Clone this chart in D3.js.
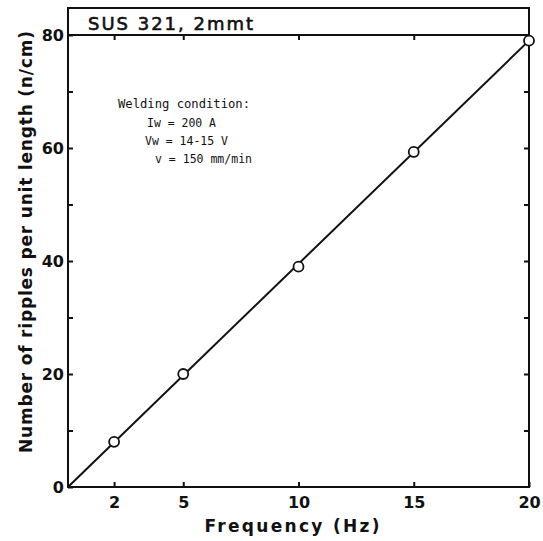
<!DOCTYPE html>
<html>
<head>
<meta charset="utf-8">
<script src="https://cdn.jsdelivr.net/npm/d3@7"></script>
<style>
  html, body { margin: 0; padding: 0; background: #fff; }
  svg { display: block; }
  .ax path { display: none; }
  .ax line { stroke: #111; stroke-width: 2; }
  .ax text { font-family: "DejaVu Sans", sans-serif; font-weight: bold; font-size: 16px; fill: #111; }
</style>
</head>
<body>
<svg id="chart" width="543" height="541"></svg>
<script>
// Ripple count vs. pulse frequency, SUS 321 2 mm sheet
const frequency = [2, 5, 10, 15, 20];          // Hz
const ripples   = [8, 20, 39, 59.3, 79];        // n/cm
const xTicks = [2, 5, 10, 15, 20];
const xTopTicks = [2, 5, 10, 15];
const yTicks = [0, 10, 20, 30, 40, 50, 60, 70, 80];
const yRightTicks = [10, 20, 30, 40, 50, 60, 70];
const conditions = ["Welding condition:", "Iw = 200 A", "Vw = 14-15 V", "v = 150 mm/min"];

const svg = d3.select("#chart");
const plotL = 68, plotR = 529, plotT = 35, plotB = 487, frameTop = 8;

const x = d3.scaleLinear().domain([0, 20]).range([plotL, plotR]);
const y = d3.scaleLinear().domain([0, 80]).range([plotB, plotT]);

// Frame with title strip
svg.append("rect")
  .attr("x", plotL).attr("y", frameTop)
  .attr("width", plotR - plotL).attr("height", plotB - frameTop)
  .attr("fill", "none").attr("stroke", "#111").attr("stroke-width", 2);
svg.append("line")
  .attr("x1", plotL).attr("x2", plotR).attr("y1", plotT).attr("y2", plotT)
  .attr("stroke", "#111").attr("stroke-width", 2);

svg.append("text")
  .attr("x", 88).attr("y", 30)
  .attr("font-family", "DejaVu Sans, sans-serif")
  .attr("font-size", 18)
  .attr("stroke", "#111").attr("stroke-width", 0.6)
  .attr("textLength", 165).attr("lengthAdjust", "spacing")
  .attr("fill", "#111")
  .text("SUS 321, 2mmt");

// Axes (ticks point inward)
svg.append("g").attr("class", "ax")
  .attr("transform", `translate(0,${plotB})`)
  .call(d3.axisBottom(x).tickValues(xTicks).tickSizeInner(-5).tickSizeOuter(0).tickPadding(10));
svg.append("g").attr("class", "ax")
  .attr("transform", `translate(0,${plotT})`)
  .call(d3.axisTop(x).tickValues(xTopTicks).tickSizeInner(-5).tickSizeOuter(0).tickFormat(""));
svg.append("g").attr("class", "ax")
  .attr("transform", `translate(${plotL},0)`)
  .call(d3.axisLeft(y).tickValues(yTicks).tickSizeInner(-5).tickSizeOuter(0).tickPadding(4)
    .tickFormat(d => d % 20 === 0 ? d : ""));
svg.append("g").attr("class", "ax")
  .attr("transform", `translate(${plotR},0)`)
  .call(d3.axisRight(y).tickValues(yRightTicks).tickSizeInner(-5).tickSizeOuter(0).tickFormat(""));

// Axis titles
svg.append("text")
  .attr("x", 292).attr("y", 532)
  .attr("text-anchor", "middle")
  .attr("font-family", "DejaVu Sans, sans-serif")
  .attr("font-weight", "bold").attr("font-size", 17)
  .attr("textLength", 175).attr("lengthAdjust", "spacing")
  .attr("fill", "#111")
  .text("Frequency (Hz)");

svg.append("text")
  .attr("transform", "translate(32,242) rotate(-90)")
  .attr("text-anchor", "middle")
  .attr("font-family", "DejaVu Sans, sans-serif")
  .attr("font-weight", "bold").attr("font-size", 17)
  .attr("textLength", 422).attr("lengthAdjust", "spacing")
  .attr("fill", "#111")
  .text("Number of ripples per unit length (n/cm)");

// Fitted line through the origin
const pts = frequency.map((f, i) => ({ f, r: ripples[i] }));
svg.append("path")
  .datum([{ f: 0, r: 0 }, pts[pts.length - 1]])
  .attr("d", d3.line().x(d => x(d.f)).y(d => y(d.r)))
  .attr("fill", "none").attr("stroke", "#111").attr("stroke-width", 2);

svg.selectAll("circle.pt").data(pts).join("circle")
  .attr("class", "pt")
  .attr("cx", d => x(d.f)).attr("cy", d => y(d.r))
  .attr("r", 5)
  .attr("fill", "#fff").attr("stroke", "#111").attr("stroke-width", 1.8);

// Welding condition note
const note = svg.append("g")
  .attr("font-family", "DejaVu Sans Mono, monospace")
  .attr("font-size", 12.5).attr("fill", "#111");
const noteX = [118, 147, 145, 155];
const noteY = [108, 127, 145, 163];
const noteW = [132, 69, 83, 97];
conditions.forEach((t, i) => {
  note.append("text").attr("x", noteX[i]).attr("y", noteY[i])
    .attr("textLength", noteW[i]).attr("lengthAdjust", "spacingAndGlyphs")
    .text(t);
});
</script>
</body>
</html>
